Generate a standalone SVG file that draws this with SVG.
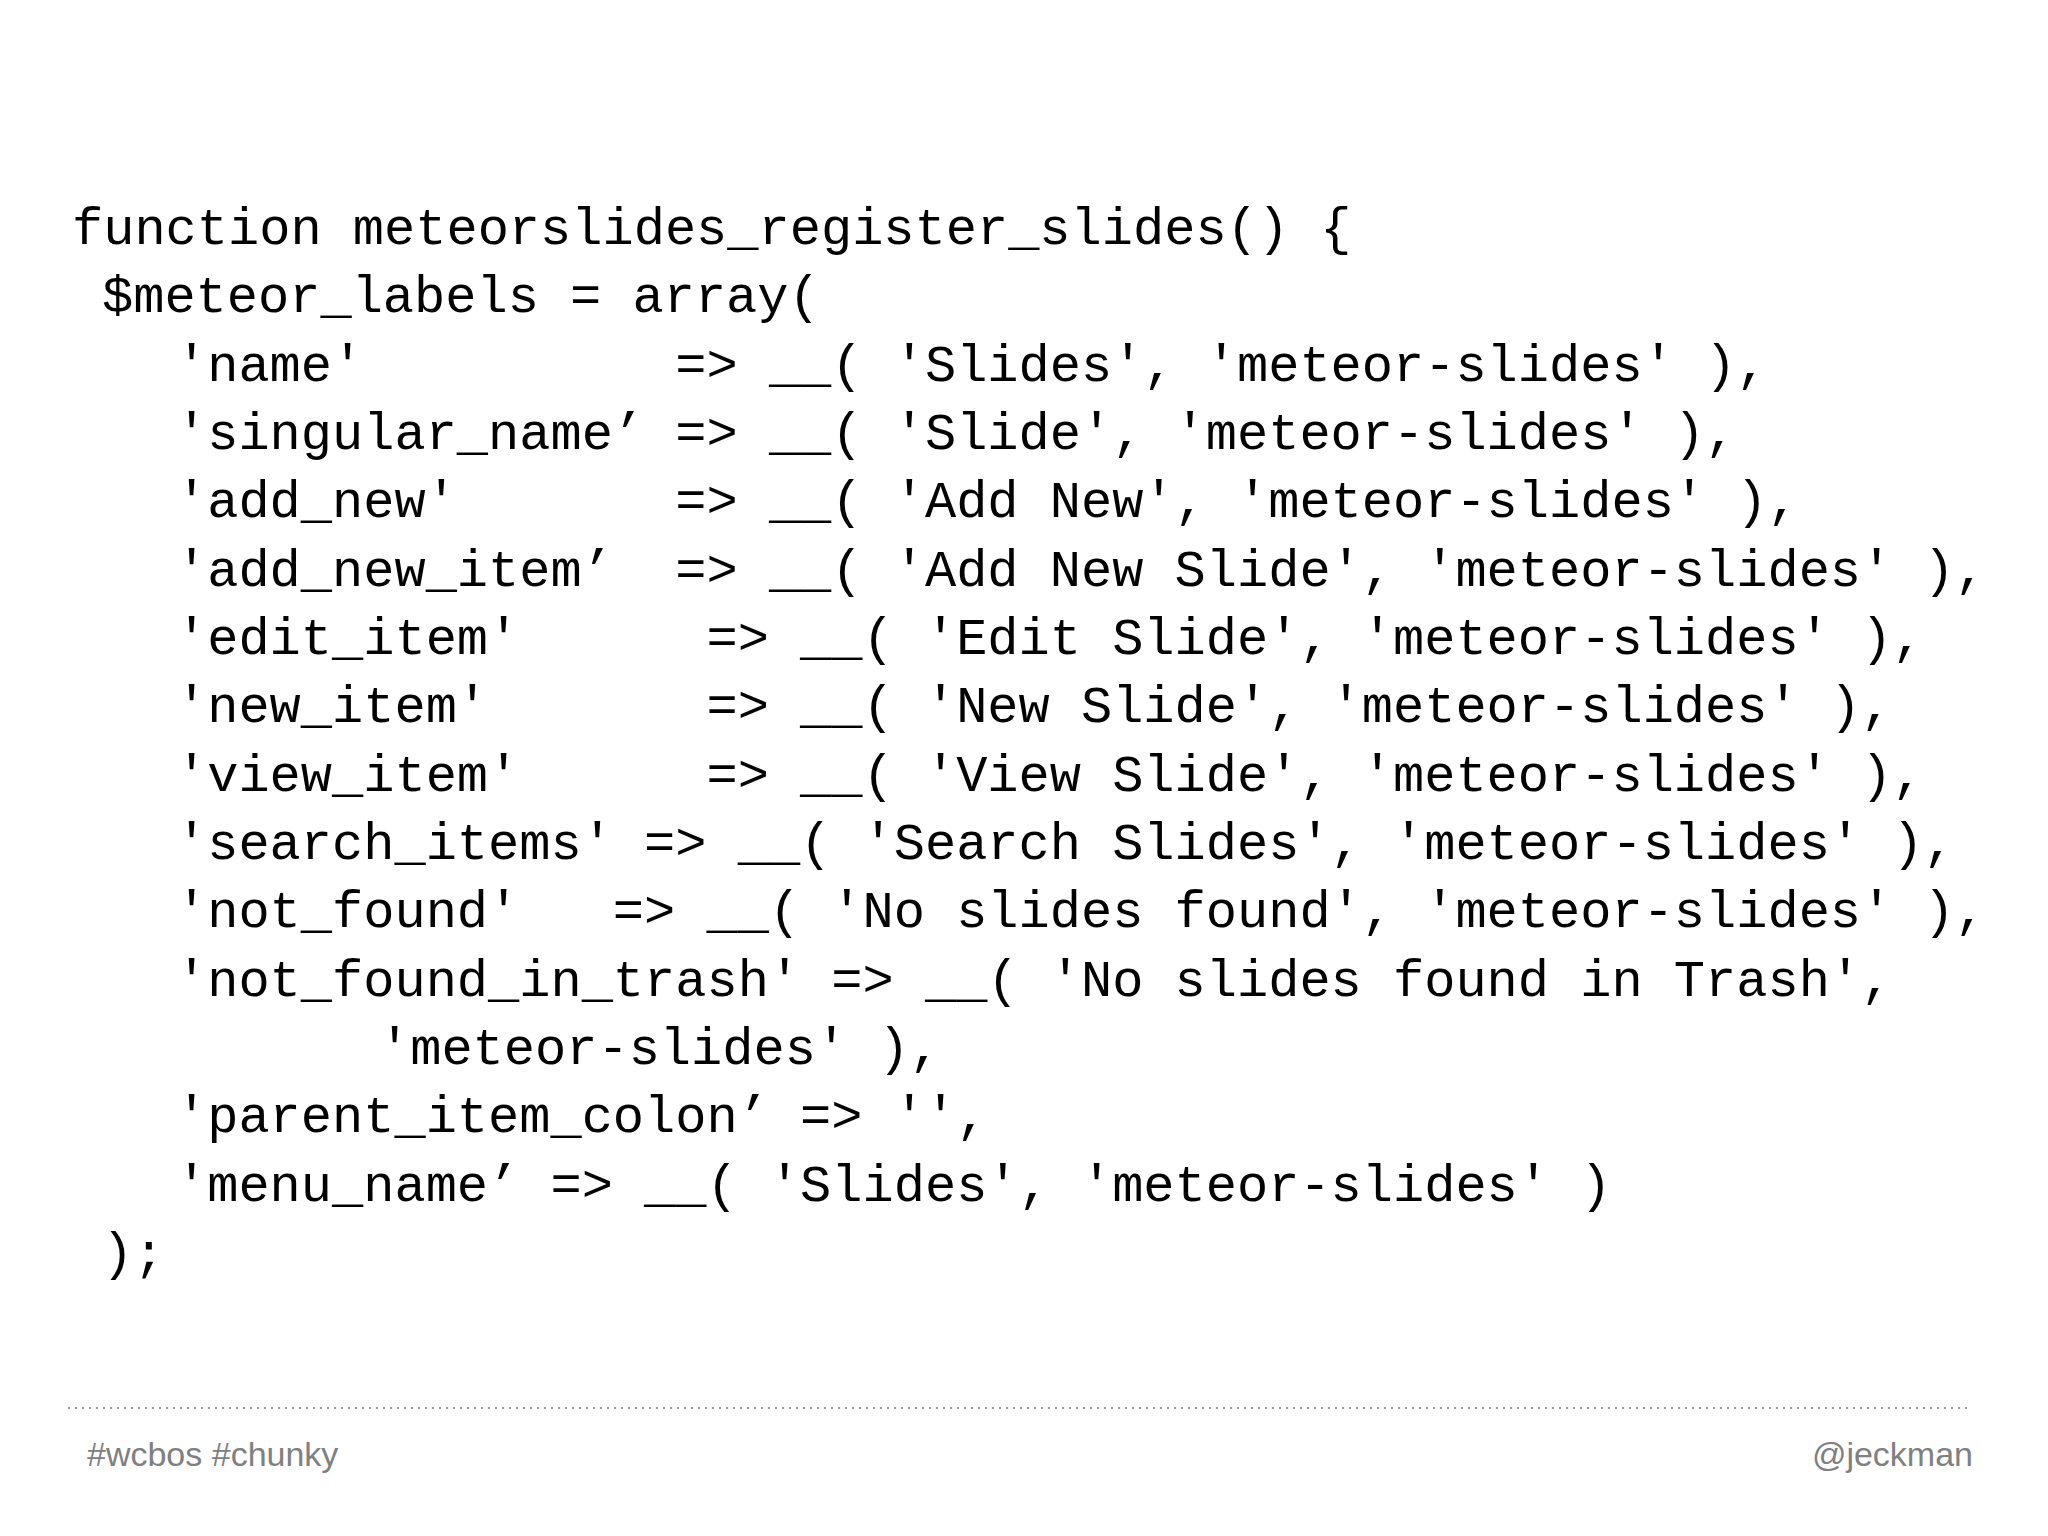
<svg xmlns="http://www.w3.org/2000/svg" width="2048" height="1536" viewBox="0 0 2048 1536">
<style>
.c{font-family:"Liberation Mono","DejaVu Sans Mono",monospace;font-size:52px;fill:#000;white-space:pre}
.f{font-family:"Liberation Sans",Arial,sans-serif;font-size:34px;fill:#808080}
</style>
<rect width="2048" height="1536" fill="#fff"/>
<g id="code" xml:space="preserve">
<text class="c" x="72" y="244">function meteorslides_register_slides() {</text>
<text class="c" x="102" y="312">$meteor_labels = array(</text>
<text class="c" x="176" y="381">'name'          =&gt; __( 'Slides', 'meteor-slides' ),</text>
<text class="c" x="176" y="449">'singular_name’ =&gt; __( 'Slide', 'meteor-slides' ),</text>
<text class="c" x="176" y="517">'add_new'       =&gt; __( 'Add New', 'meteor-slides' ),</text>
<text class="c" x="176" y="586">'add_new_item’  =&gt; __( 'Add New Slide', 'meteor-slides' ),</text>
<text class="c" x="176" y="654">'edit_item'      =&gt; __( 'Edit Slide', 'meteor-slides' ),</text>
<text class="c" x="176" y="722">'new_item'       =&gt; __( 'New Slide', 'meteor-slides' ),</text>
<text class="c" x="176" y="791">'view_item'      =&gt; __( 'View Slide', 'meteor-slides' ),</text>
<text class="c" x="176" y="859">'search_items' =&gt; __( 'Search Slides', 'meteor-slides' ),</text>
<text class="c" x="176" y="927">'not_found'   =&gt; __( 'No slides found', 'meteor-slides' ),</text>
<text class="c" x="176" y="996">'not_found_in_trash' =&gt; __( 'No slides found in Trash',</text>
<text class="c" x="379" y="1064">'meteor-slides' ),</text>
<text class="c" x="176" y="1132">'parent_item_colon’ =&gt; '',</text>
<text class="c" x="176" y="1201">'menu_name’ =&gt; __( 'Slides', 'meteor-slides' )</text>
<text class="c" x="102" y="1269">);</text>
</g>
<g id="footer">
<line x1="68" y1="1408" x2="1972" y2="1408" stroke="#999" stroke-width="2" stroke-dasharray="2,5"/>
<text class="f" x="87" y="1466">#wcbos #chunky</text>
<text class="f" x="1973" y="1466" text-anchor="end">@jeckman</text>
</g>
</svg>
